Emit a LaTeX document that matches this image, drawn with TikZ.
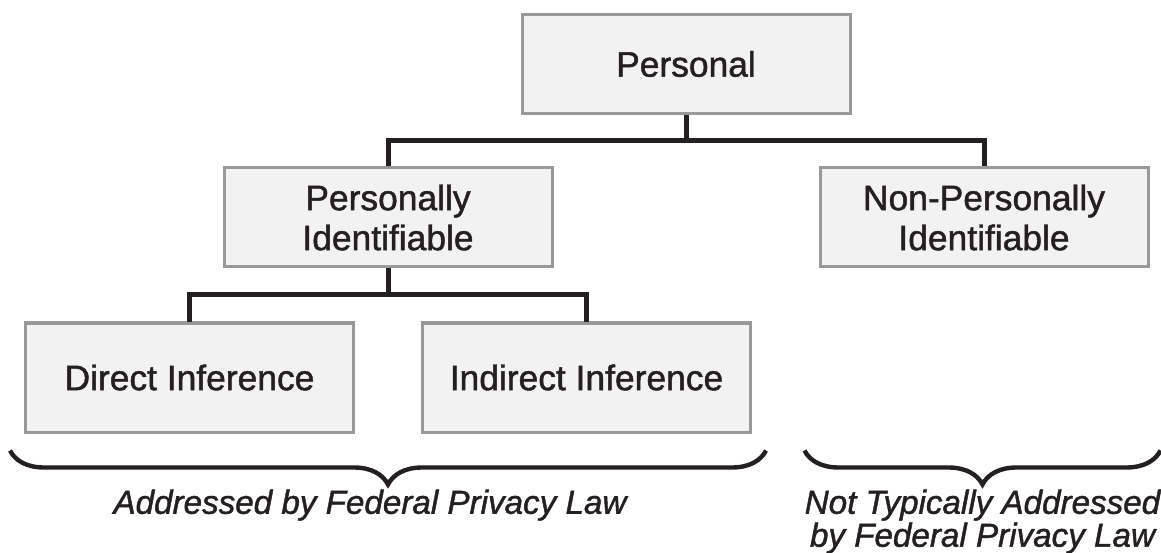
\documentclass[tikz,border=0pt]{standalone}
\usepackage{fontspec}
\setmainfont{Liberation Sans}[FakeBold=1.3]
\usepackage{tikz}
\usetikzlibrary{positioning,calc,decorations.pathreplacing}
\definecolor{boxfill}{rgb}{0.95,0.95,0.95}
\definecolor{boxline}{rgb}{0.6,0.6,0.6}
\definecolor{wire}{rgb}{0.14,0.12,0.13}

\begin{document}
\begin{tikzpicture}[x=1pt, y=1pt,
  level 1/.style={sibling distance=298pt, level distance=76.75pt},
  level 2/.style={sibling distance=198.5pt, level distance=80pt},
  box/.style={shape=rectangle, draw=boxline, line width=1.5pt, fill=boxfill, align=center, minimum width=164pt, minimum height=49.5pt, text=wire, font=\fontsize{17.7}{20}\selectfont},
  leaf/.style={box, minimum height=54.5pt},
  edge from parent/.style={draw=wire, line width=2.5pt},
  edge from parent path={(\tikzparentnode.south) -- ++(0,-13pt) -| (\tikzchildnode.north)},
  lawbrace/.style={decorate, decoration={brace, mirror, amplitude=17pt}, draw=wire, line width=2.2pt},
  law/.style={align=center, inner sep=0pt, text=wire, font=\fontsize{16.6}{14.8}\selectfont\itshape}]
  \useasboundingbox (0,0) rectangle (580.5,276);
  \node[box] (personal) at (343,244) {Personal}
    child { node[box] (ident) {Personally\\Identifiable}
      child { node[leaf] (direct) {Direct Inference} }
      child { node[leaf] (indirect) {Indirect Inference} }
    }
    child { node[box] (nonident) {Non-Personally\\Identifiable} };
  % braces under the boxes
  \coordinate (lawL) at ([shift={(-7pt,-8.5pt)}]direct.south west);
  \coordinate (lawR) at ([shift={(7pt,-8.5pt)}]indirect.south east);
  \coordinate (notL) at ($(lawL -| nonident.west)+(-7pt,0)$);
  \coordinate (notR) at ($(lawL -| nonident.east)+(5.5pt,0)$);
  \draw[lawbrace] (lawL) -- (lawR) node[law, midway, below=18.5pt, xshift=-9pt] (addressed) {Addressed by Federal Privacy Law};
  \draw[lawbrace] (notL) -- (notR) node[law, midway, below=18.5pt] (notaddressed) {Not Typically Addressed\\by Federal Privacy Law};
\end{tikzpicture}
\end{document}
